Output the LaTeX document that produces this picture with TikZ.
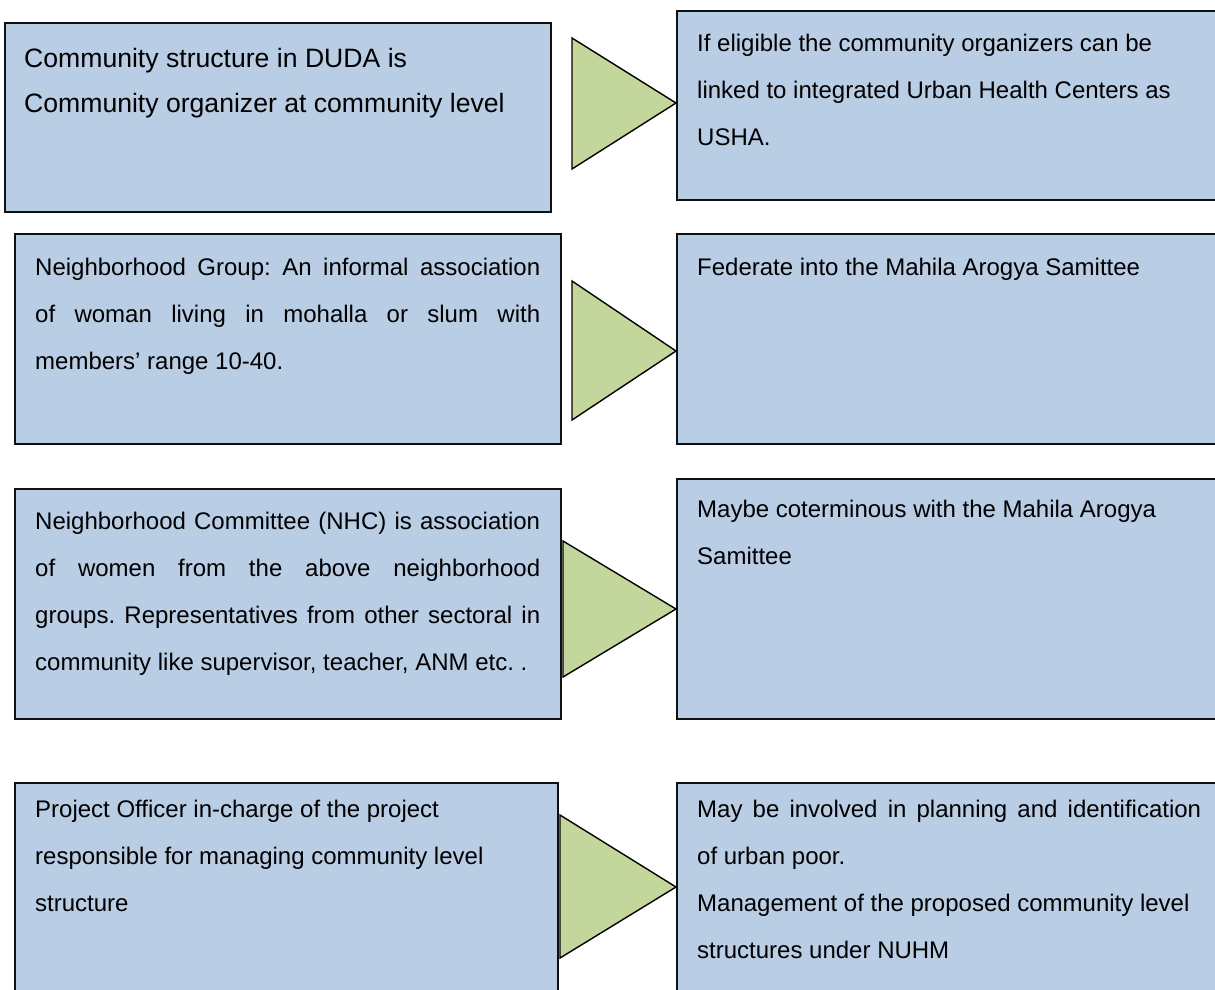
\documentclass[tikz,border=0pt]{standalone}
\usepackage{fontspec}
\setmainfont{Liberation Sans}
\frenchspacing
\definecolor{boxblue}{HTML}{B9CDE5}
\definecolor{trigreen}{HTML}{C3D69B}
\definecolor{edge}{HTML}{101010}
\tikzset{
  box/.style={draw=edge, line width=1.7pt, fill=boxblue, anchor=north west, inner sep=0pt},
  tri/.style={draw=black, line width=1.4pt, fill=trigreen, line join=miter},
  txt/.style={anchor=north west, inner sep=0pt, font=\fontsize{24}{47}\selectfont},
  just/.style={txt, align=justify, text width=#1}
}
\begin{document}
\begin{tikzpicture}[x=1pt,y=-1pt]
\useasboundingbox (0,0) rectangle (1215,989);
\clip (0,0) rectangle (1215,989);
\fill[white] (0,0) rectangle (1215,989);
% left boxes
\node[box, minimum width=546pt, minimum height=189pt] (L1) at (4,22) {};
\node[box, minimum width=546pt, minimum height=210pt] (L2) at (14,233) {};
\node[box, minimum width=546pt, minimum height=230pt] (L3) at (14,488) {};
\node[box, minimum width=543pt, minimum height=230pt] (L4) at (14,782) {};
% right boxes
\node[box, minimum width=560pt, minimum height=189pt] (R1) at (676,10) {};
\node[box, minimum width=560pt, minimum height=210pt] (R2) at (676,233) {};
\node[box, minimum width=560pt, minimum height=240pt] (R3) at (676,478) {};
\node[box, minimum width=560pt, minimum height=230pt] (R4) at (676,782) {};
% triangles
\draw[tri] (572,38) -- (572,169) -- (R1.west |- 0,103) -- cycle;
\draw[tri] (572,281) -- (572,420) -- (R2.west |- 0,351) -- cycle;
\draw[tri] (563,541) -- (563,677) -- (R3.west |- 0,609) -- cycle;
\draw[tri] (560,815) -- (560,958) -- (R4.west |- 0,887) -- cycle;
% texts
\node[txt, font=\fontsize{26.6}{45}\selectfont, align=left] (tL1) at (24,48) {Community structure in DUDA is\\Community organizer at community level};
\node[just=505pt] (tL2) at (35,258) {Neighborhood Group: An informal association\linebreak of woman living in mohalla or slum with\linebreak members’ range 10-40.};
\node[just=505pt] (tL3) at (35,512) {Neighborhood Committee (NHC) is association\linebreak of women from the above neighborhood\linebreak groups. Representatives from other sectoral in\linebreak community like supervisor, teacher, ANM etc.\ .};
\node[txt, align=left] (tL4) at (35,800) {Project Officer in-charge of the project\\responsible for managing community level\\structure};
\node[txt, align=left] (tR1) at (697,34) {If eligible the community organizers can be\\linked to integrated Urban Health Centers as\\USHA.};
\node[txt, align=left] (tR2) at (697,258) {Federate into the Mahila Arogya Samittee};
\node[txt, align=left] (tR3) at (697,500) {Maybe coterminous with the Mahila Arogya\\Samittee};
\node[just=504pt] (tR4) at (697,800) {May be involved in planning and identification\linebreak of urban poor.\\Management of the proposed community level\\structures under NUHM};
\end{tikzpicture}
\end{document}
